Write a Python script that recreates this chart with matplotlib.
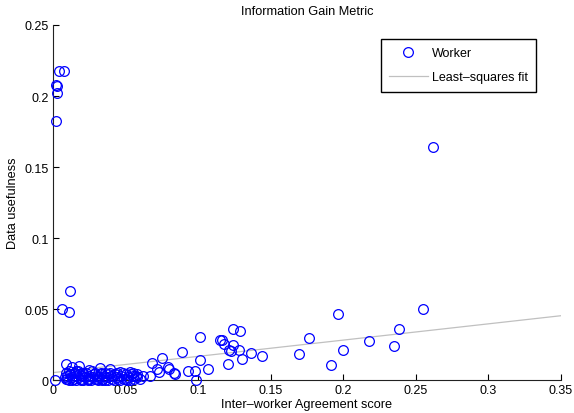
import matplotlib
matplotlib.use("Agg")
import numpy as np
import matplotlib.pyplot as plt

# worker points (agreement score, data usefulness)
agree_x = [0.0041, 0.0076, 0.0020, 0.0028, 0.0028, 0.0020, 0.2618,
           0.0119, 0.0060, 0.0110,
           0.1013, 0.1150, 0.0887, 0.1010, 0.0749, 0.0680, 0.0714, 0.0730,
           0.0794, 0.0800, 0.0836, 0.0838, 0.0928, 0.0980, 0.1066, 0.0985,
           0.0090, 0.0129, 0.0180, 0.0014, 0.0248, 0.0324, 0.0390, 0.0460,
           0.0530, 0.0577, 0.0668,
           0.1966, 0.2386, 0.1242, 0.1288, 0.1162, 0.1178, 0.1238, 0.1215,
           0.1224, 0.1280, 0.1302, 0.1208, 0.1362, 0.1438, 0.1697, 0.1762,
           0.1913, 0.2000, 0.2175, 0.2350, 0.2551,
           0.008, 0.009, 0.010, 0.011, 0.012, 0.013, 0.014, 0.015, 0.016,
           0.017, 0.018, 0.019, 0.020, 0.021, 0.022, 0.023, 0.024, 0.025,
           0.026, 0.027, 0.028, 0.029, 0.030, 0.031, 0.032, 0.033, 0.034,
           0.035, 0.036, 0.037, 0.038, 0.040, 0.041, 0.043, 0.044, 0.046,
           0.047, 0.049, 0.050, 0.052, 0.053, 0.055, 0.056, 0.058, 0.060,
           0.062, 0.009, 0.011, 0.013, 0.015, 0.017, 0.019, 0.021, 0.024,
           0.027, 0.030, 0.033, 0.036, 0.039, 0.042, 0.045, 0.048, 0.051,
           0.054, 0.057, 0.010, 0.012, 0.016, 0.020, 0.025, 0.029, 0.034,
           0.038, 0.044, 0.050, 0.055]
usefulness = [0.2176, 0.2176, 0.2077, 0.2070, 0.2020, 0.1824, 0.1640,
              0.0629, 0.0500, 0.0477,
              0.0305, 0.0284, 0.0199, 0.0143, 0.0153, 0.0120, 0.0077, 0.0058,
              0.0089, 0.0078, 0.0046, 0.0040, 0.0063, 0.0060, 0.0077, 0.0000,
              0.0113, 0.0089, 0.0100, 0.0000, 0.0070, 0.0082, 0.0077, 0.0056,
              0.0056, 0.0040, 0.0028,
              0.0465, 0.0359, 0.0359, 0.0342, 0.0284, 0.0254, 0.0249, 0.0213,
              0.0201, 0.0213, 0.0146, 0.0113, 0.0190, 0.0171, 0.0183, 0.0296,
              0.0106, 0.0211, 0.0273, 0.0240, 0.0498,
              0.002, 0.001, 0.003, 0.000, 0.004, 0.002, 0.001, 0.003, 0.000,
              0.002, 0.004, 0.001, 0.003, 0.000, 0.002, 0.005, 0.001, 0.003,
              0.000, 0.002, 0.004, 0.001, 0.003, 0.000, 0.002, 0.004, 0.001,
              0.003, 0.005, 0.002, 0.000, 0.003, 0.001, 0.004, 0.002, 0.000,
              0.003, 0.001, 0.004, 0.002, 0.000, 0.003, 0.001, 0.002, 0.001,
              0.003, 0.005, 0.006, 0.000, 0.005, 0.006, 0.000, 0.005, 0.000,
              0.006, 0.001, 0.005, 0.000, 0.005, 0.000, 0.001, 0.005, 0.000,
              0.004, 0.003, 0.001, 0.004, 0.006, 0.005, 0.001, 0.005, 0.000,
              0.004, 0.005, 0.001, 0.005]

fit_slope = 0.1145
fit_intercept = 0.0052

xticks = [0, 0.05, 0.1, 0.15, 0.2, 0.25, 0.3, 0.35]
yticks = [0, 0.05, 0.1, 0.15, 0.2, 0.25]

plt.rcParams['font.family'] = ['Liberation Sans', 'DejaVu Sans']

fig = plt.figure(figsize=(5.74, 4.14), dpi=100)
ax = fig.add_axes([0.0923, 0.0797, 0.885, 0.8575])

ax.plot(agree_x, usefulness, 'o', mfc='none', mec='#0000ff', mew=0.9,
        ms=7, label='Worker', zorder=3, clip_on=False)
fx = np.array([0, 0.35])
ax.plot(fx, fit_slope * fx + fit_intercept, color='#c0c0c0', lw=0.9,
        label='Least\u2013squares fit', zorder=2)

ax.set_xlim(0, 0.35)
ax.set_ylim(0, 0.25)
ax.set_xticks(xticks)
ax.set_yticks(yticks)
ax.set_xticklabels(['%g' % t for t in xticks])
ax.set_yticklabels(['%g' % t for t in yticks])
ax.tick_params(direction='in', labelsize=9, length=4, width=0.8, pad=3)
for s in ['top', 'right']:
    ax.spines[s].set_visible(False)
ax.spines['left'].set_color('#222222')
ax.spines['bottom'].set_color('#222222')

ax.set_title('Information Gain Metric', fontsize=9.2, pad=8)
ax.set_xlabel('Inter\u2013worker Agreement score', fontsize=9.2, labelpad=1)
ax.set_ylabel('Data usefulness', fontsize=9.2, labelpad=4)

leg = ax.legend(loc='upper right', bbox_to_anchor=(0.951, 0.961),
                borderaxespad=0, fontsize=9, fancybox=False, framealpha=1,
                edgecolor='black', handlelength=3.1, handletextpad=0.35,
                borderpad=0.65, labelspacing=1.0)
leg.get_frame().set_linewidth(1.0)

fig.savefig('out.png', dpi=100)
